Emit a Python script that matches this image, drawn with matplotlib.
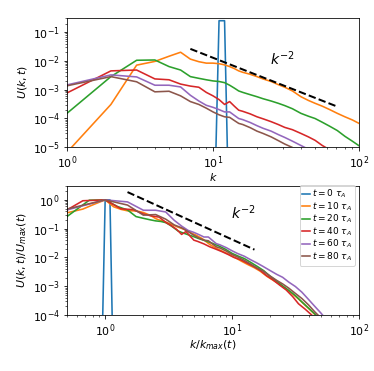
import numpy as np
import matplotlib
matplotlib.use("Agg")
import matplotlib.pyplot as plt

plt.rcParams['font.size'] = 11

# wavenumbers (shared by all times)
k = np.array([1, 2, 3, 4, 5, 6, 7, 8, 9, 10, 11, 12, 13, 14, 15, 16,
              18, 20, 22, 25, 28, 31, 35, 40, 45, 50, 56, 63, 71, 80, 90, 100,
              113, 127, 143, 160, 180, 202, 227, 255, 286])

# log10 U(k,t)
logu_t10 = [-5.19, -3.52, -2.15, -2.02, -1.84, -1.70, -1.94, -2.03, -2.08, -2.08, -2.10,
            -2.14, -2.20, -2.27, -2.35, -2.40, -2.47, -2.55, -2.63, -2.72, -2.83, -2.92,
            -3.05, -3.25, -3.38, -3.48, -3.58, -3.70, -3.83, -3.95, -4.06, -4.18,
            -4.36, -4.50, -4.64, -4.80, -4.97, -5.16, -5.37, -5.58, -5.80]
logu_t20 = [-3.83, -2.55, -1.98, -1.97, -2.20, -2.32, -2.55, -2.61, -2.66, -2.70, -2.72,
            -2.76, -2.85, -2.95, -3.05, -3.10, -3.18, -3.25, -3.32, -3.40, -3.48, -3.56,
            -3.67, -3.83, -3.93, -4.01, -4.14, -4.28, -4.43, -4.63, -4.80, -4.96,
            -5.13, -5.31, -5.53, -5.73, -5.94, -6.16, -6.40, -6.65, -6.90]
logu_t40 = [-3.12, -2.35, -2.32, -2.63, -2.66, -2.81, -2.88, -2.92, -3.10, -3.22, -3.35,
            -3.52, -3.42, -3.58, -3.72, -3.76, -3.85, -3.95, -4.02, -4.12, -4.22, -4.32,
            -4.40, -4.53, -4.65, -4.77, -4.95, -5.10, -5.28, -5.45, -5.68, -5.93,
            -6.12, -6.32, -6.55, -6.78, -7.00, -7.25, -7.50, -7.75, -8.00]
logu_t60 = [-2.84, -2.49, -2.56, -2.85, -2.85, -2.91, -3.20, -3.40, -3.55, -3.62, -3.70,
            -3.78, -3.78, -3.90, -4.01, -4.05, -4.15, -4.26, -4.35, -4.45, -4.57, -4.67,
            -4.80, -4.95, -5.08, -5.18, -5.35, -5.50, -5.70, -5.95, -6.20, -6.42,
            -6.70, -6.95, -7.20, -7.45, -7.70, -7.95, -8.20, -8.45, -8.70]
logu_t80 = [-2.87, -2.55, -2.73, -3.08, -3.06, -3.22, -3.42, -3.52, -3.65, -3.78, -3.88,
            -3.95, -3.97, -4.08, -4.18, -4.22, -4.33, -4.45, -4.53, -4.65, -4.78, -4.90,
            -5.02, -5.20, -5.35, -5.47, -5.62, -5.80, -5.98, -6.20, -6.45, -6.65,
            -6.90, -7.15, -7.40, -7.65, -7.90, -8.15, -8.40, -8.65, -8.90]

# initial condition: narrow band around k ~ 11-12
k_t0 = np.array([10, 11, 12, 13])
u_t0 = np.array([5e-10, 0.25, 0.25, 2e-9])

labels = [r'$t = 0~\tau_A$', r'$t = 10~\tau_A$', r'$t = 20~\tau_A$',
          r'$t = 40~\tau_A$', r'$t = 60~\tau_A$', r'$t = 80~\tau_A$']

series = [(k_t0, u_t0)]
for lu in [logu_t10, logu_t20, logu_t40, logu_t60, logu_t80]:
    series.append((k, 10.0 ** np.array(lu)))

# k^-2 guide lines
ref_top_k = np.array([7.0, 70.0])
ref_top_amp = 1.28
ref_bot_x = np.array([1.5, 15.0])
ref_bot_amp = 4.2

fig = plt.figure(figsize=(374 / 72, 371 / 72), dpi=72)
ax1 = fig.add_axes([0.179, 0.604, 0.781, 0.348])
ax2 = fig.add_axes([0.179, 0.151, 0.781, 0.348])

for i, (kk, uu) in enumerate(series):
    ax1.loglog(kk, uu, color='C%d' % i, lw=1.6)
ax1.loglog(ref_top_k, ref_top_amp * ref_top_k ** -2.0, 'k--', lw=2)
ax1.text(29.6, 0.0117, r'$k^{-2}$', fontsize=14, ha='center', va='center')
ax1.set_xlim(1, 100)
ax1.set_ylim(1e-5, 0.316)
ax1.set_xlabel(r'$k$', labelpad=0)
ax1.set_ylabel(r'$U(k,t)$')

for i, (kk, uu) in enumerate(series):
    j = np.argmax(uu)
    ax2.loglog(kk / kk[j], uu / uu[j], color='C%d' % i, lw=1.6, label=labels[i])
ax2.loglog(ref_bot_x, ref_bot_amp * ref_bot_x ** -2.0, 'k--', lw=2)
ax2.text(12.2, 0.35, r'$k^{-2}$', fontsize=14, ha='center', va='center')
ax2.set_xlim(0.5, 100)
ax2.set_ylim(1e-4, 3.07)
ax2.set_xlabel(r'$k/k_{max}(t)$', labelpad=0)
ax2.set_ylabel(r'$U(k,t)/U_{max}(t)$')
ax2.legend(loc='upper right', bbox_to_anchor=(0.985, 1.005), borderaxespad=0,
           fontsize=9, borderpad=0.3, handlelength=0.9, handletextpad=0.15,
           labelspacing=0.0)

fig.savefig('out.png', dpi=72)
